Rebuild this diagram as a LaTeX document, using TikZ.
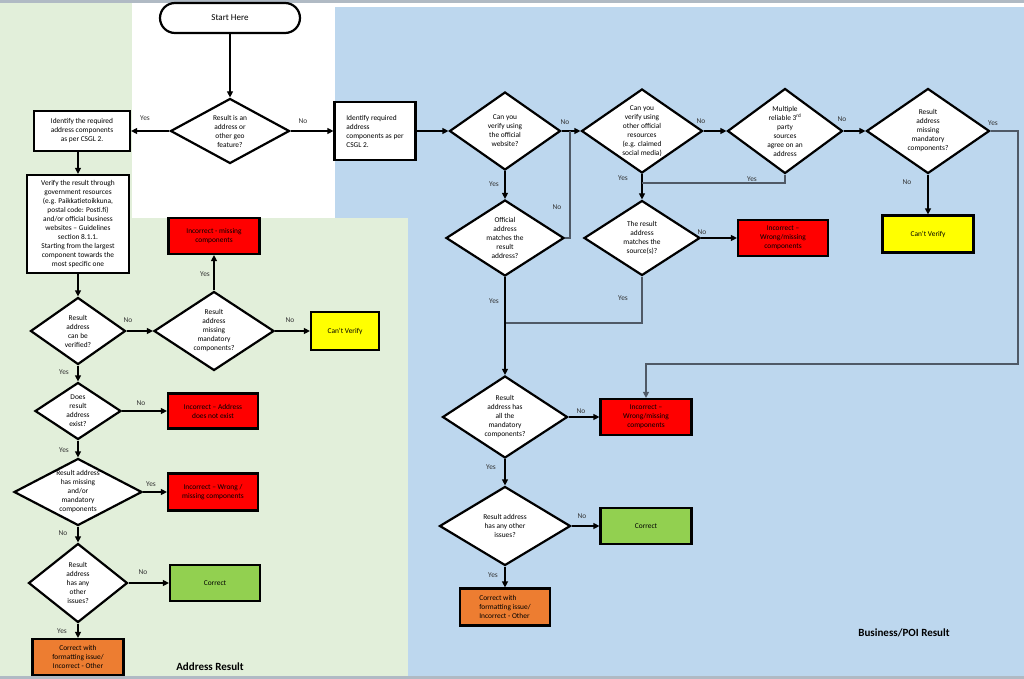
\documentclass[tikz,border=0pt]{standalone}
\usepackage{fontspec}
\setmainfont{Carlito}
\usepackage{xcolor}
\usepackage{tikz}
\usetikzlibrary{shapes.geometric, arrows.meta, positioning}

\definecolor{addrgreen}{HTML}{E2EFDA}
\definecolor{poiblue}{HTML}{BDD7EE}
\definecolor{badred}{HTML}{FF0000}
\definecolor{cantyellow}{HTML}{FFFF00}
\definecolor{goodgreen}{HTML}{92D050}
\definecolor{fmtorange}{HTML}{ED7D31}
\definecolor{joingray}{HTML}{4F5966}
\definecolor{edgegray}{HTML}{B0BAC4}

\tikzset{
    txt/.style={font=\fontsize{7.4}{9}\selectfont},
    terminal/.style={draw, line width=2.2pt, rounded corners=15pt, fill=white,
        minimum width=140pt, minimum height=30pt, font=\fontsize{9}{11}\selectfont},
    decision/.style={diamond, draw, line width=2.2pt, fill=white, inner sep=-20pt,
        align=center, txt},
    process/.style={rectangle, draw, line width=2.2pt, fill=white, align=center,
        inner sep=2pt, txt},
    outcome/.style={process, fill=#1},
    lbl/.style={txt, text=black!80},
    arr/.style={line width=1.2pt, -{Triangle[length=6pt,width=6pt]}},
    joinline/.style={line width=1.2pt, draw=joingray},
    region/.style={font=\fontsize{11}{13}\selectfont\bfseries}
}

\begin{document}
\begin{tikzpicture}[x=1pt, y=-1pt]
    \useasboundingbox (0,0) rectangle (1024,679);
    % Backgrounds
    \fill[white] (0,0) rectangle (1024,679);
    \fill[addrgreen] (0,3) rectangle (132,218);
    \fill[addrgreen] (0,218) rectangle (408,677);
    \fill[poiblue] (335,7) rectangle (1024,218);
    \fill[poiblue] (408,218) rectangle (1024,677);
    \fill[edgegray] (0,0) rectangle (1024,3);
    \fill[edgegray] (0,676) rectangle (1024,679);

    % Start
    \node[terminal] (start) at (230,18) {Start Here};
    \node[decision, minimum width=119pt, minimum height=65pt] (isaddr) at (230,131)
        {Result is an\\address or\\other geo\\feature?};

    % Address result
    \node[process, minimum width=96pt, minimum height=40pt] (idaddr) at (82,131)
        {Identify the required\\address components\\as per CSGL 2.};
    \node[process, minimum width=102pt, minimum height=98pt] (verify) at (78,224)
        {Verify the result through\\government resources\\(e.g. Paikkatietoikkuna,\\postal code: Posti.fi)\\and/or official business\\websites -- Guidelines\\section 8.1.1.\\Starting from the largest\\component towards the\\most specific one};
    \node[decision, minimum width=95pt, minimum height=67pt] (canverify) at (78,331)
        {Result\\address\\can be\\verified?};
    \node[decision, minimum width=120pt, minimum height=79pt] (missmand) at (214,331)
        {Result\\address\\missing\\mandatory\\components?};
    \node[outcome=badred, minimum width=91pt, minimum height=36pt] (incmiss) at (214,236)
        {Incorrect - missing\\components};
    \node[outcome=cantyellow, minimum width=68pt, minimum height=38pt] (cantA) at (345,331)
        {Can't Verify};
    \node[decision, minimum width=86pt, minimum height=57pt] (exist) at (78,411)
        {Does\\result\\address\\exist?};
    \node[outcome=badred, minimum width=90pt, minimum height=35pt] (incexist) at (213,411)
        {Incorrect -- Address\\does not exist};
    \node[decision, minimum width=128pt, minimum height=67pt] (hasmiss) at (78,492)
        {Result address\\has missing\\and/or\\mandatory\\components};
    \node[outcome=badred, minimum width=90pt, minimum height=37pt] (incwrong) at (213,492)
        {Incorrect -- Wrong /\\missing components};
    \node[decision, minimum width=99pt, minimum height=79pt] (otherA) at (78,583)
        {Result\\address\\has any\\other\\issues?};
    \node[outcome=goodgreen, minimum width=90pt, minimum height=36pt] (correctA) at (215,583)
        {Correct};
    \node[outcome=fmtorange, minimum width=91pt, minimum height=36pt] (fmtA) at (78,657)
        {Correct with\\formatting issue/\\Incorrect - Other};
    \node[region] (addrtitle) at (210,667) {Address Result};

    % Business/POI result
    \node[process, align=left, minimum width=81pt, minimum height=58pt] (idpoi) at (375,131)
        {Identify required\\address\\components as per\\CSGL 2.};
    \node[decision, minimum width=111pt, minimum height=78pt] (offweb) at (505,131)
        {Can you\\verify using\\the official\\website?};
    \node[decision, minimum width=118pt, minimum height=76pt] (offmatch) at (505,238)
        {Official\\address\\matches the\\result\\address?};
    \node[decision, minimum width=121pt, minimum height=84pt] (othres) at (642,131)
        {Can you\\verify using\\other official\\resources\\(e.g. claimed\\social media)};
    \node[decision, minimum width=115pt, minimum height=85pt] (thirdp) at (785,131)
        {Multiple\\reliable 3\textsuperscript{rd}\\party\\sources\\agree on an\\address};
    \node[decision, minimum width=116pt, minimum height=75pt] (srcmatch) at (642,238)
        {The result\\address\\matches the\\source(s)?};
    \node[outcome=badred, minimum width=90pt, minimum height=36pt] (incsrc) at (783,238)
        {Incorrect --\\Wrong/missing\\components};
    \node[decision, minimum width=123pt, minimum height=85pt] (missmandB) at (928,131)
        {Result\\address\\missing\\mandatory\\components?};
    \node[outcome=cantyellow, minimum width=91pt, minimum height=37pt] (cantB) at (928,234)
        {Can't Verify};
    \node[decision, minimum width=125pt, minimum height=82pt] (allmand) at (505,417)
        {Result\\address has\\all the\\mandatory\\components?};
    \node[outcome=badred, minimum width=91pt, minimum height=36pt] (incmand) at (646,417)
        {Incorrect --\\Wrong/missing\\components};
    \node[decision, minimum width=131pt, minimum height=79pt] (otherB) at (505,526)
        {Result address\\has any other\\issues?};
    \node[outcome=goodgreen, minimum width=91pt, minimum height=36pt] (correctB) at (646,526)
        {Correct};
    \node[outcome=fmtorange, align=left, minimum width=90pt, minimum height=37pt] (fmtB) at (505,607)
        {Correct with\\formatting issue/\\Incorrect - Other};
    \node[region] (poititle) at (904,633) {Business/POI Result};

    % Join points
    \coordinate (jweb) at (570,131);
    \coordinate (jsrc) at (642,183);
    \coordinate (jmatch) at (505,323);
    \coordinate (jright) at (1018,364);

    % Connectors, address side
    \draw[arr] (start) -- (isaddr);
    \draw[arr] (isaddr) -- (idaddr);
    \draw[arr] (isaddr) -- (idpoi);
    \draw[arr] (idaddr.south -| verify.north) -- (verify.north);
    \draw[arr] (verify) -- (canverify);
    \draw[arr] (canverify) -- (missmand);
    \draw[arr] (missmand) -- (incmiss);
    \draw[arr] (missmand) -- (cantA);
    \draw[arr] (canverify) -- (exist);
    \draw[arr] (exist) -- (incexist);
    \draw[arr] (exist) -- (hasmiss);
    \draw[arr] (hasmiss) -- (incwrong);
    \draw[arr] (hasmiss) -- (otherA);
    \draw[arr] (otherA) -- (correctA);
    \draw[arr] (otherA) -- (fmtA);

    % Connectors, business side
    \draw[arr] (idpoi) -- (offweb);
    \draw[arr] (offweb) -- (othres);
    \draw[arr] (offweb) -- (offmatch);
    \draw[joinline] (offmatch.east) -| (jweb);
    \draw[arr] (othres) -- (thirdp);
    \draw[arr] (othres) -- (srcmatch);
    \draw[joinline] (thirdp.south) |- (jsrc);
    \draw[arr] (thirdp) -- (missmandB);
    \draw[arr] (missmandB) -- (cantB);
    \draw[arr, draw=joingray] (missmandB.east) -| (jright) -| (incmand.north);
    \draw[arr] (srcmatch) -- (incsrc);
    \draw[joinline] (srcmatch.south) |- (jmatch);
    \draw[arr] (offmatch) -- (allmand);
    \draw[arr] (allmand) -- (incmand);
    \draw[arr] (allmand) -- (otherB);
    \draw[arr] (otherB) -- (correctB);
    \draw[arr] (otherB) -- (fmtB);

    % Yes / No labels
    \node[lbl] (l1) at (145,118) {Yes};
    \node[lbl] (l2) at (303,121) {No};
    \node[lbl] (l3) at (128,320) {No};
    \node[lbl] (l4) at (205,274) {Yes};
    \node[lbl] (l5) at (290,320) {No};
    \node[lbl] (l6) at (64,372) {Yes};
    \node[lbl] (l7) at (141,403) {No};
    \node[lbl] (l8) at (64,450) {Yes};
    \node[lbl] (l9) at (151,484) {Yes};
    \node[lbl] (l10) at (63,533) {No};
    \node[lbl] (l11) at (143,572) {No};
    \node[lbl] (l12) at (62,631) {Yes};
    \node[lbl] (l13) at (565,122) {No};
    \node[lbl] (l14) at (557,207) {No};
    \node[lbl] (l15) at (494,184) {Yes};
    \node[lbl] (l16) at (701,121) {No};
    \node[lbl] (l17) at (842,119) {No};
    \node[lbl] (l18) at (623,178) {Yes};
    \node[lbl] (l19) at (752,179) {Yes};
    \node[lbl] (l20) at (702,232) {No};
    \node[lbl] (l21) at (623,298) {Yes};
    \node[lbl] (l22) at (494,301) {Yes};
    \node[lbl] (l23) at (993,123) {Yes};
    \node[lbl] (l24) at (907,182) {No};
    \node[lbl] (l25) at (581,411) {No};
    \node[lbl] (l26) at (491,467) {Yes};
    \node[lbl] (l27) at (582,516) {No};
    \node[lbl] (l28) at (493,575) {Yes};
\end{tikzpicture}
\end{document}
